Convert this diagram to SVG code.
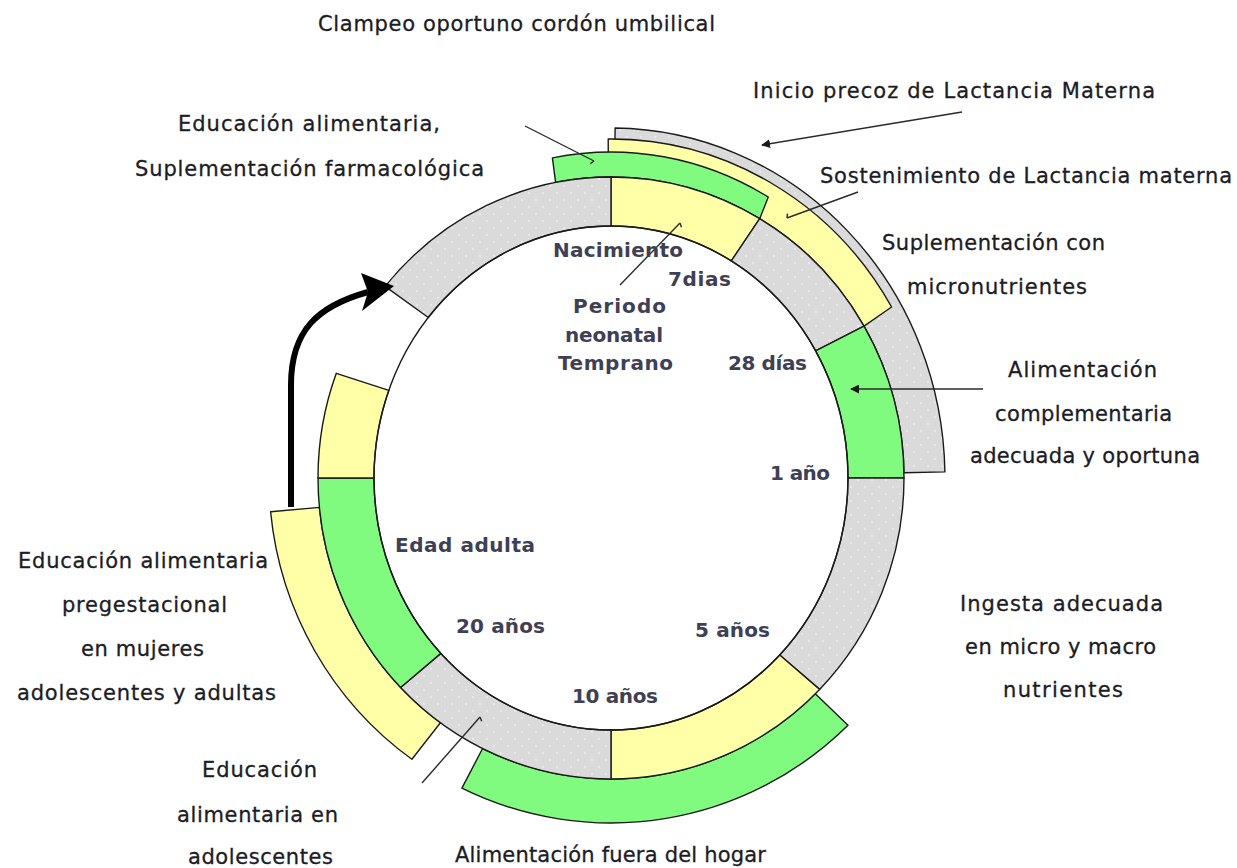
<svg xmlns="http://www.w3.org/2000/svg" width="1237" height="868" viewBox="0 0 1237 868">
<defs>
<style>
.seg{stroke:#1a1a1a;stroke-width:1.4;stroke-linejoin:round}
.gy{fill:url(#dots)}
.yl{fill:#ffffa8}
.gn{fill:#80fb80}
.lbl{font-family:"DejaVu Sans","Liberation Sans",sans-serif;font-size:21px;fill:#1c1c26;stroke:#1c1c26;stroke-width:0.3}
.in{font-family:"DejaVu Sans","Liberation Sans",sans-serif;font-weight:bold;font-size:20px;fill:#3f3f55}
.lead{fill:none;stroke:#2a2a2a;stroke-width:1.4}
</style>
<pattern id="dots" width="14" height="14" patternUnits="userSpaceOnUse">
<rect width="14" height="14" fill="#dadada"/>
<circle cx="4" cy="4" r="0.9" fill="#f0f0f0"/>
<circle cx="11" cy="11" r="0.9" fill="#f0f0f0"/>
</pattern>
<marker id="arr" viewBox="0 0 10 10" refX="9" refY="5" markerWidth="9" markerHeight="9" markerUnits="userSpaceOnUse" orient="auto">
<path d="M0,0 L10,5 L0,10 z" fill="#1a1a1a"/>
</marker>
<marker id="hook" viewBox="-6 -6 12 12" refX="0" refY="0" markerWidth="12" markerHeight="12" markerUnits="userSpaceOnUse" orient="auto">
<path d="M0,0 L-2,4" fill="none" stroke="#2a2a2a" stroke-width="1.4"/>
</marker>
</defs>
<rect width="1237" height="868" fill="#ffffff"/>

<g id="band-inicio-precoz">
<path class="seg gy" d="M614.6,177 A293 301 0 0 1 904,472.7 L944.9,471.9 A334 350 0 0 0 615.1,128 Z"/>
</g>
<g id="band-sostenimiento">
<path class="seg yl" d="M608.4,177 A293 301 0 0 1 864,326.1 L891.6,307 A325 339 0 0 0 608.2,139 Z"/>
</g>
<g id="band-clampeo">
<path class="seg gn" d="M555.6,182.4 A293 301 0 0 1 759.7,218.7 L768.3,197.1 A310 326 0 0 0 552.4,157.9 Z"/>
</g>
<g id="band-pregestacional">
<path class="seg yl" d="M440.4,722.7 A293 301 0 0 1 319.4,507.4 L270.6,511.8 A342 346 0 0 0 411.9,759.3 Z"/>
</g>
<g id="band-fuera-hogar">
<path class="seg gn" d="M815.3,693.8 A293 301 0 0 1 482.6,748.5 L461.9,788.1 A340 345 0 0 0 848,725.3 Z"/>
</g>

<g id="ring">
<path id="seg-neonatal" class="seg yl" d="M611,177 A293 301 0 0 1 759.7,218.7 L731.3,260.9 A237 252 0 0 0 611,226 Z"/>
<path id="seg-7-28" class="seg gy" d="M759.7,218.7 A293 301 0 0 1 864,326.1 L815.6,350.9 A237 252 0 0 0 731.3,260.9 Z"/>
<path id="seg-28-1" class="seg gn" d="M864,326.1 A293 301 0 0 1 904,478 L848,478 A237 252 0 0 0 815.6,350.9 Z"/>
<path id="seg-1-5" class="seg gy" d="M904,478 A293 301 0 0 1 819.6,689.4 L779.7,655 A237 252 0 0 0 848,478 Z"/>
<path id="seg-5-10" class="seg yl" d="M819.6,689.4 A293 301 0 0 1 611,779 L611,730 A237 252 0 0 0 779.7,655 Z"/>
<path id="seg-10-20" class="seg gy" d="M611,779 A293 301 0 0 1 400.6,687.5 L440.8,653.4 A237 252 0 0 0 611,730 Z"/>
<path id="seg-adulta" class="seg gn" d="M400.6,687.5 A293 301 0 0 1 318,478 L374,478 A237 252 0 0 0 440.8,653.4 Z"/>
<path id="seg-adulta2" class="seg yl" d="M318,478 A293 301 0 0 1 336.3,373.3 L388.8,390.4 A237 252 0 0 0 374,478 Z"/>
<path id="seg-pre" class="seg gy" d="M385.1,286.4 A293 301 0 0 1 611,177 L611,226 A237 252 0 0 0 428.3,317.5 Z"/>
<ellipse cx="611" cy="478" rx="237" ry="252" fill="none" stroke="#1a1a1a" stroke-width="1.4"/>
</g>

<g id="connectors">
<path class="lead" d="M525,126 L594,161" marker-end="url(#hook)"/>
<path class="lead" d="M962,112 L762,145" marker-end="url(#arr)"/>
<path class="lead" d="M858,192 L787,218" marker-end="url(#hook)"/>
<path class="lead" d="M620,285 L680,223" marker-end="url(#hook)"/>
<path class="lead" d="M983,389 L851,389" marker-end="url(#arr)"/>
<path class="lead" d="M422,783 L480,717" marker-end="url(#hook)"/>
<path d="M291,507 L291,385 C291,330 318,306 368,292" fill="none" stroke="#000" stroke-width="6"/>
<polygon points="394,286 361,273 368,292 362,311" fill="#000"/>
</g>

<g id="outer-labels">
<text class="lbl" x="318" y="31" textLength="397">Clampeo oportuno cordón umbilical</text>
<text class="lbl" x="753" y="98" textLength="402">Inicio precoz de Lactancia Materna</text>
<text class="lbl" x="178" y="131" textLength="262">Educación alimentaria,</text>
<text class="lbl" x="135" y="176" textLength="349">Suplementación farmacológica</text>
<text class="lbl" x="820" y="183" textLength="412">Sostenimiento de Lactancia materna</text>
<text class="lbl" x="882" y="250" textLength="223">Suplementación con</text>
<text class="lbl" x="907" y="294" textLength="180">micronutrientes</text>
<text class="lbl" x="1008" y="377" textLength="149">Alimentación</text>
<text class="lbl" x="995" y="421" textLength="177">complementaria</text>
<text class="lbl" x="970" y="463" textLength="230">adecuada y oportuna</text>
<text class="lbl" x="960" y="611" textLength="203">Ingesta adecuada</text>
<text class="lbl" x="965" y="654" textLength="191">en micro y macro</text>
<text class="lbl" x="1003" y="697" textLength="120">nutrientes</text>
<text class="lbl" x="18" y="568" textLength="250">Educación alimentaria</text>
<text class="lbl" x="62" y="612" textLength="165">pregestacional</text>
<text class="lbl" x="81" y="656" textLength="123">en mujeres</text>
<text class="lbl" x="17" y="700" textLength="259">adolescentes y adultas</text>
<text class="lbl" x="202" y="777" textLength="115">Educación</text>
<text class="lbl" x="177" y="822" textLength="161">alimentaria en</text>
<text class="lbl" x="188" y="864" textLength="145">adolescentes</text>
<text class="lbl" x="455" y="862" textLength="311">Alimentación fuera del hogar</text>
</g>

<g id="inner-labels">
<text class="in" x="553" y="257" textLength="130">Nacimiento</text>
<text class="in" x="668" y="286" textLength="63">7dias</text>
<text class="in" x="573" y="313" textLength="93">Periodo</text>
<text class="in" x="565" y="342" textLength="98">neonatal</text>
<text class="in" x="558" y="370" textLength="115">Temprano</text>
<text class="in" x="728" y="370" textLength="79">28 días</text>
<text class="in" x="770" y="480" textLength="60">1 año</text>
<text class="in" x="395" y="552" textLength="140">Edad adulta</text>
<text class="in" x="456" y="633" textLength="89">20 años</text>
<text class="in" x="695" y="637" textLength="75">5 años</text>
<text class="in" x="572" y="703" textLength="86">10 años</text>
</g>
</svg>
